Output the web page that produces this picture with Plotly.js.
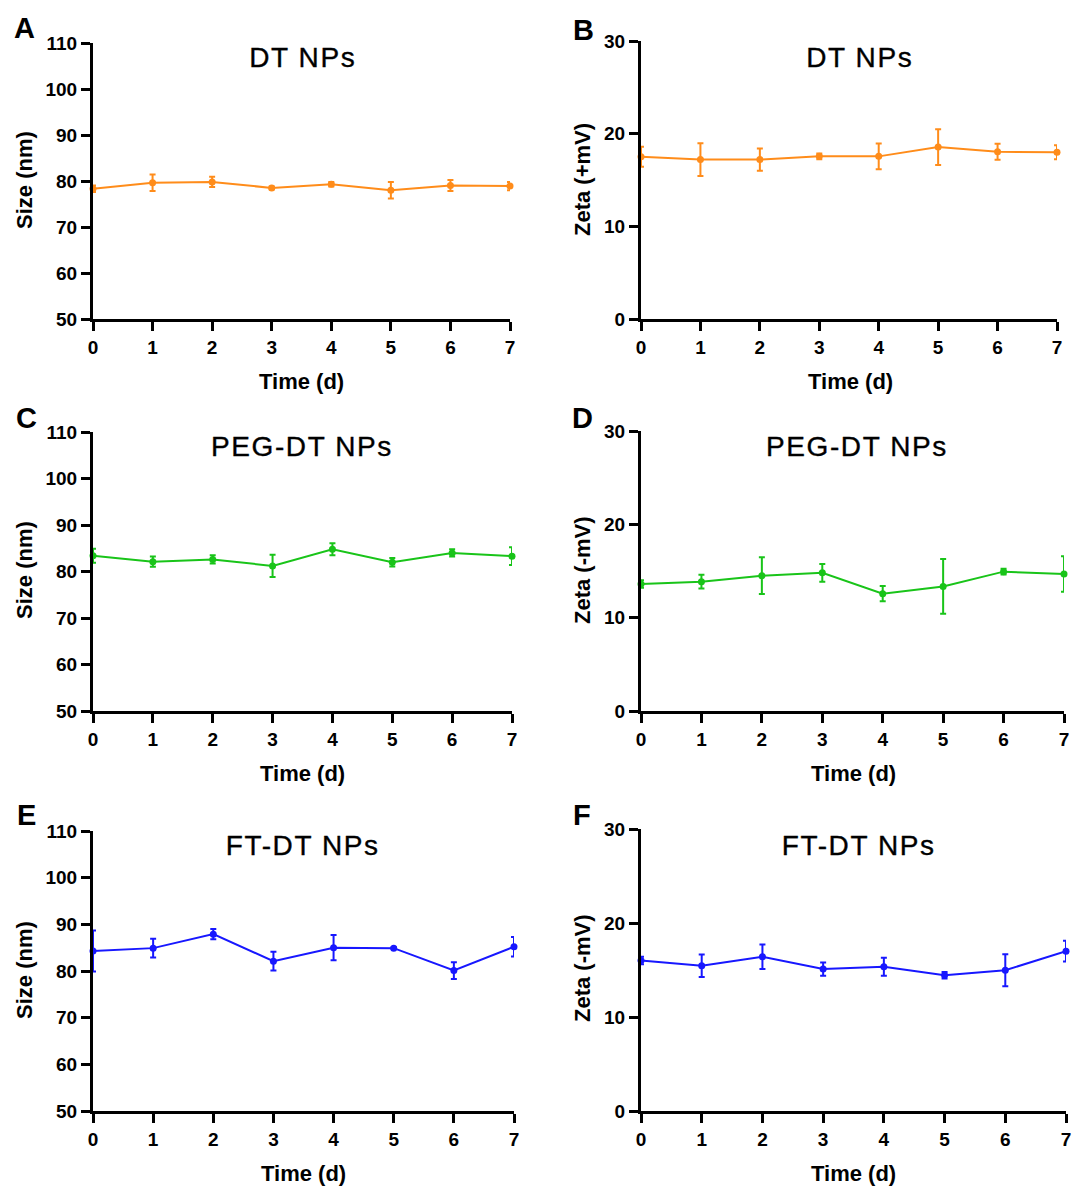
<!DOCTYPE html>
<html>
<head>
<meta charset="utf-8">
<script src="https://cdn.plot.ly/plotly-3.0.1.min.js"></script>
<style>html,body{margin:0;padding:0;background:#fff;}#chart{width:1074px;height:1189px;}</style>
</head>
<body>
<div id="chart"></div>
<script>
// ---- data ----
const days = [0, 1, 2, 3, 4, 5, 6, 7];

const dtSize     = [78.3, 79.6, 79.8, 78.5, 79.3, 78.0, 79.0, 78.9];
const dtSizeErr  = [0.7, 1.8, 1.1, 0.3, 0.5, 1.8, 1.2, 0.9];
const dtZeta     = [17.5, 17.2, 17.2, 17.55, 17.55, 18.55, 18.05, 18.0];
const dtZetaErr  = [1.08, 1.76, 1.2, 0.3, 1.38, 1.92, 0.86, 0.75];

const pegSize    = [83.4, 82.1, 82.6, 81.2, 84.8, 82.0, 84.0, 83.3];
const pegSizeErr = [1.5, 1.1, 0.9, 2.4, 1.3, 0.9, 0.8, 1.9];
const pegZeta    = [13.6, 13.86, 14.5, 14.8, 12.57, 13.35, 14.93, 14.68];
const pegZetaErr = [0.4, 0.73, 1.96, 0.96, 0.82, 2.93, 0.3, 1.9];

const ftSize     = [84.3, 84.9, 87.9, 82.1, 85.0, 84.9, 80.1, 85.2];
const ftSizeErr  = [4.4, 2.0, 1.1, 2.0, 2.7, 0.2, 1.8, 2.1];
const ftZeta     = [16.0, 15.46, 16.4, 15.1, 15.35, 14.44, 14.97, 17.0];
const ftZetaErr  = [0.4, 1.2, 1.3, 0.7, 0.96, 0.35, 1.7, 1.1];

const panelLetters = ["A", "B", "C", "D", "E", "F"];
const panelTitles  = ["DT NPs", "DT NPs", "PEG-DT NPs", "PEG-DT NPs", "FT-DT NPs", "FT-DT NPs"];
const yTitles      = ["Size (nm)", "Zeta (+mV)", "Size (nm)", "Zeta (-mV)", "Size (nm)", "Zeta (-mV)"];
const xTitle       = "Time (d)";

// ---- styling / layout ----
const W = 1074, H = 1189;
const FONT = "Liberation Sans, Arial, Helvetica, sans-serif";
const colors = ["#ff8c1a", "#ff8c1a", "#19c419", "#19c419", "#1717ff", "#1717ff"];
const series = [
  [dtSize, dtSizeErr], [dtZeta, dtZetaErr],
  [pegSize, pegSizeErr], [pegZeta, pegZetaErr],
  [ftSize, ftSizeErr], [ftZeta, ftZetaErr]
];
const yRanges = [[50, 110], [0, 30], [50, 110], [0, 30], [50, 110], [0, 30]];
// pixel boxes [x0, x1, yTop, yBottom]
const boxes = [
  [93, 510, 43, 319], [641, 1057, 41, 319],
  [93, 512, 432, 711], [641, 1064, 431, 711],
  [93, 514, 831, 1111], [641, 1066, 829, 1111]
];
const letterPos = [[24, 28], [583, 30], [26, 418], [582, 418], [26, 815], [582, 815]];
const titlePos  = [[303, 57], [860, 57], [302, 447], [857, 447], [302, 845], [858, 845]];
const yTitlePos = [[24, 180], [582, 180], [24, 570], [582, 570], [24, 970], [582, 968]];
const xTitlePos = [[301, 381], [850, 381], [302, 773], [853, 773], [303, 1173], [853, 1173]];

const px = x => x / W;
const py = y => 1 - y / H;

const traces = [];
const layout = {
  width: W, height: H,
  margin: {l: 0, r: 0, t: 0, b: 0},
  paper_bgcolor: "#fff", plot_bgcolor: "rgba(0,0,0,0)",
  showlegend: false,
  font: {family: FONT, color: "#000"},
  annotations: []
};

const tickFont = {family: FONT, size: 19, weight: "bold", color: "#000"};

for (let i = 0; i < 6; i++) {
  const n = i === 0 ? "" : String(i + 1);
  const [vals, errs] = series[i];
  traces.push({
    type: "scatter", mode: "lines+markers",
    x: days, y: vals,
    xaxis: "x" + n, yaxis: "y" + n,
    line: {color: colors[i], width: 2},
    marker: {color: colors[i], size: 7},
    error_y: {type: "data", array: errs, visible: true, color: colors[i], thickness: 2, width: 3},
    cliponaxis: false
  });
  const b = boxes[i];
  layout["xaxis" + n] = {
    domain: [px(b[0]), px(b[1])],
    anchor: "y" + n,
    range: [0, 7], dtick: 1, tick0: 0,
    showgrid: false, zeroline: false,
    showline: true, linecolor: "#000", linewidth: 3,
    ticks: "outside", ticklen: 9, tickwidth: 3, tickcolor: "#000",
    tickfont: tickFont,
    fixedrange: true
  };
  layout["yaxis" + n] = {
    domain: [py(b[3]), py(b[2])],
    anchor: "x" + n,
    range: yRanges[i], dtick: 10,
    showgrid: false, zeroline: false,
    showline: true, linecolor: "#000", linewidth: 3,
    ticks: "outside", ticklen: 9, tickwidth: 3, tickcolor: "#000",
    tickfont: tickFont,
    fixedrange: true
  };
  layout.annotations.push(
    {xref: "paper", yref: "paper", x: px(letterPos[i][0]), y: py(letterPos[i][1]),
     text: panelLetters[i], showarrow: false, xanchor: "center", yanchor: "middle",
     font: {family: FONT, size: 29, weight: "bold", color: "#000"}},
    {xref: "paper", yref: "paper", x: px(titlePos[i][0]), y: py(titlePos[i][1]),
     text: panelTitles[i], showarrow: false, xanchor: "center", yanchor: "middle",
     font: {family: FONT, size: 28, color: "#000"}},
    {xref: "paper", yref: "paper", x: px(yTitlePos[i][0]), y: py(yTitlePos[i][1]),
     text: yTitles[i], showarrow: false, xanchor: "center", yanchor: "middle", textangle: -90,
     font: {family: FONT, size: 22, weight: "bold", color: "#000"}},
    {xref: "paper", yref: "paper", x: px(xTitlePos[i][0]), y: py(xTitlePos[i][1]),
     text: xTitle, showarrow: false, xanchor: "center", yanchor: "middle",
     font: {family: FONT, size: 22, weight: "bold", color: "#000"}}
  );
}

Plotly.newPlot("chart", traces, layout, {staticPlot: true, displayModeBar: false}).then(gd => {
  // panel titles in the reference are letter-spaced and slightly heavier
  gd.querySelectorAll(".annotation").forEach(g => {
    const idx = Number(g.getAttribute("data-index"));
    if (idx % 4 === 1) {
      const t = g.querySelector(".annotation-text");
      if (t) {
        t.style.letterSpacing = "1.6px";
        t.style.stroke = "#000";
        t.style.strokeWidth = "0.35px";
      }
    }
  });
});
</script>
</body>
</html>
